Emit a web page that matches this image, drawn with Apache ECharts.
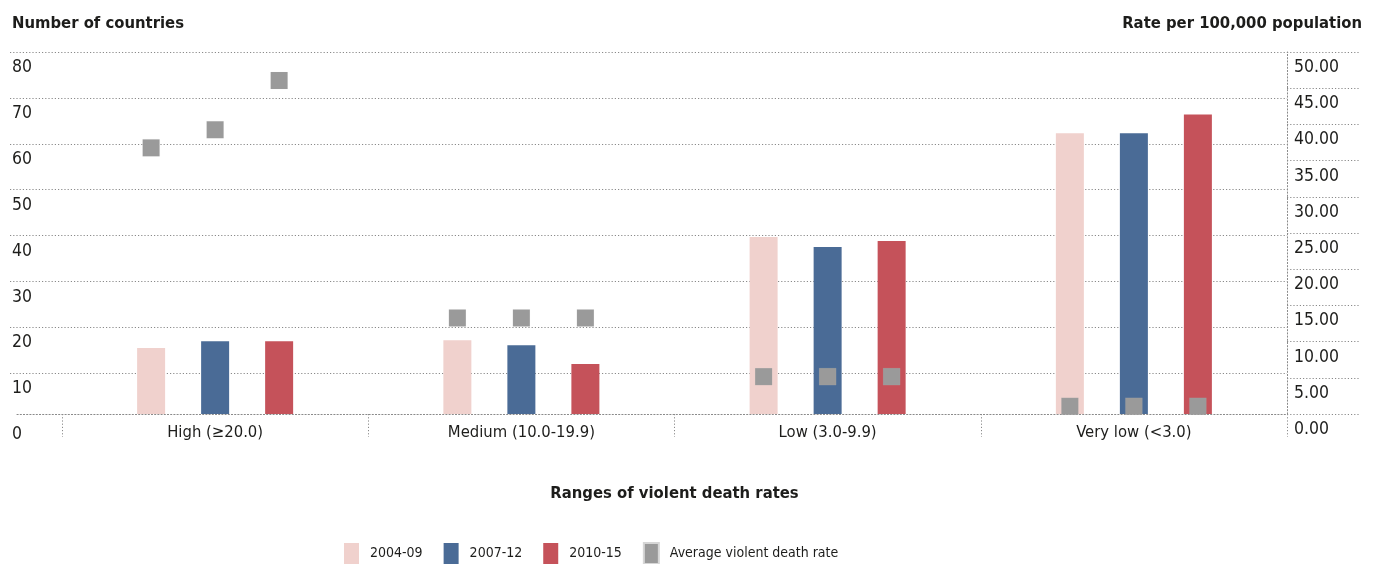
<!DOCTYPE html>
<html>
<head>
<meta charset="utf-8">
<script src="https://cdn.jsdelivr.net/npm/echarts@6/dist/echarts.min.js"></script>
<style>
html,body{margin:0;padding:0;background:#fff;}
#chart{width:1379px;height:564px;}
</style>
</head>
<body>
<div id="chart"></div>
<script>
// ---- data ----
const categories = ['High (≥20.0)', 'Medium (10.0-19.9)', 'Low (3.0-9.9)', 'Very low (<3.0)'];
const periods = ['2004-09', '2007-12', '2010-15'];
const countries2004 = [15.5, 17.2, 39.7, 62.3];
const countries2007 = [17.0, 16.1, 37.5, 62.3];
const countries2010 = [17.0, 12.0, 38.8, 66.4];
const rate2004 = [36.9, 13.4, 5.3, 1.2];
const rate2007 = [39.4, 13.4, 5.3, 1.2];
const rate2010 = [46.2, 13.4, 5.3, 1.2];
const leftTicks = { min: 0, max: 80, interval: 10 };
const rightTicks = { min: 0, max: 50, interval: 5 };
const avgName = 'Average violent death rate';

// ---- style ----
const FONT = "'DejaVu Sans Condensed', 'Liberation Sans Narrow', sans-serif";
const TEXT = '#1d1d1b';
const DOT = { color: '#8a8a8a', width: 1, type: [1.2, 2] };
const colors = ['#f0d1cd', '#4a6b96', '#c5525a'];
const GRAY = '#9a9a9a', GRAY_BORDER = '#d6d6d6';

const chart = echarts.init(document.getElementById('chart'), null, { renderer: 'canvas' });

const barSeries = [countries2004, countries2007, countries2010].map((d, i) => ({
  type: 'bar', name: periods[i], data: d,
  xAxisIndex: 0, yAxisIndex: 0,
  barWidth: 28, barGap: '128.6%',
  itemStyle: { color: colors[i] },
  clip: true, z: 2
}));
const sqSeries = [rate2004, rate2007, rate2010].map((d) => ({
  type: 'pictorialBar', name: avgName, data: d,
  xAxisIndex: 0, yAxisIndex: 1,
  barWidth: 28, barGap: '128.6%',
  symbol: 'rect', symbolSize: [17, 17],
  symbolPosition: 'end', symbolOffset: [0, '-50%'],
  itemStyle: { color: GRAY, borderColor: GRAY_BORDER, borderWidth: 2 },
  z: 5
}));

const option = {
  animation: false,
  textStyle: { fontFamily: FONT, color: TEXT },
  graphic: [
    { type: 'text', left: 12, top: 15, style: { text: 'Number of countries', font: "bold 16.5px " + FONT, fill: TEXT } },
    { type: 'text', right: 17, top: 15, style: { text: 'Rate per 100,000 population', font: "bold 16.5px " + FONT, fill: TEXT } }
  ],
  legend: {
    left: 344, top: 542, padding: 0,
    itemWidth: 15, itemHeight: 21, itemGap: 21,
    textStyle: { fontSize: 14, color: TEXT, fontFamily: FONT, padding: [0, 0, 0, 6] },
    data: [
      { name: periods[0], icon: 'rect' },
      { name: periods[1], icon: 'rect' },
      { name: periods[2], icon: 'rect' },
      { name: avgName, icon: 'rect', itemStyle: { color: GRAY, borderColor: GRAY_BORDER, borderWidth: 2 } }
    ]
  },
  grid: [
    { left: 62, right: 92, top: 52, bottom: 150 },      // 0: plot
    { left: 10, right: 92, top: 52, bottom: 144.8 },    // 1: left axis gridlines
    { left: 1287, right: 19, top: 52, bottom: 150 },    // 2: right axis
    { left: 17, right: 92, top: 52, bottom: 150 }       // 3: baseline
  ],
  xAxis: [
    {
      gridIndex: 0, type: 'category', data: categories,
      axisLine: { show: false },
      axisTick: { show: true, length: 23, lineStyle: DOT },
      axisLabel: { fontSize: 16.5, color: TEXT, fontFamily: FONT, margin: 10 },
      name: 'Ranges of violent death rates', nameLocation: 'middle', nameGap: 71,
      nameTextStyle: { fontSize: 16.5, fontWeight: 'bold', color: TEXT, fontFamily: FONT }
    },
    { gridIndex: 1, type: 'category', data: categories, show: false },
    { gridIndex: 2, type: 'category', data: [], show: false },
    { gridIndex: 3, type: 'value', axisLine: { show: true, onZero: false, lineStyle: DOT },
      axisTick: { show: false }, axisLabel: { show: false }, splitLine: { show: false } }
  ],
  yAxis: [
    { gridIndex: 0, type: 'value', min: 1.13, max: leftTicks.max, show: false, splitLine: { show: false } },
    { gridIndex: 0, type: 'value', min: rightTicks.min, max: rightTicks.max, show: false, splitLine: { show: false } },
    {
      gridIndex: 1, type: 'value', min: leftTicks.min, max: leftTicks.max, interval: leftTicks.interval,
      axisLine: { show: false }, axisTick: { show: false },
      splitLine: { show: true, showMinLine: false, lineStyle: DOT },
      axisLabel: { inside: true, margin: 2, fontSize: 17.5, color: TEXT, fontFamily: FONT,
        verticalAlign: 'top', lineHeight: 31, align: 'left' }
    },
    {
      gridIndex: 2, type: 'value', position: 'left', min: rightTicks.min, max: rightTicks.max, interval: rightTicks.interval,
      axisLine: { show: true, lineStyle: DOT }, axisTick: { show: false },
      splitLine: { show: true, lineStyle: DOT },
      axisLabel: { inside: true, margin: 7, fontSize: 17.5, color: TEXT, fontFamily: FONT,
        verticalAlign: 'top', lineHeight: 31, align: 'left',
        formatter: v => v.toFixed(2) }
    },
    { gridIndex: 3, type: 'value', show: false, splitLine: { show: false } }
  ],
  series: barSeries.concat(sqSeries)
};
chart.setOption(option);
</script>
</body>
</html>
